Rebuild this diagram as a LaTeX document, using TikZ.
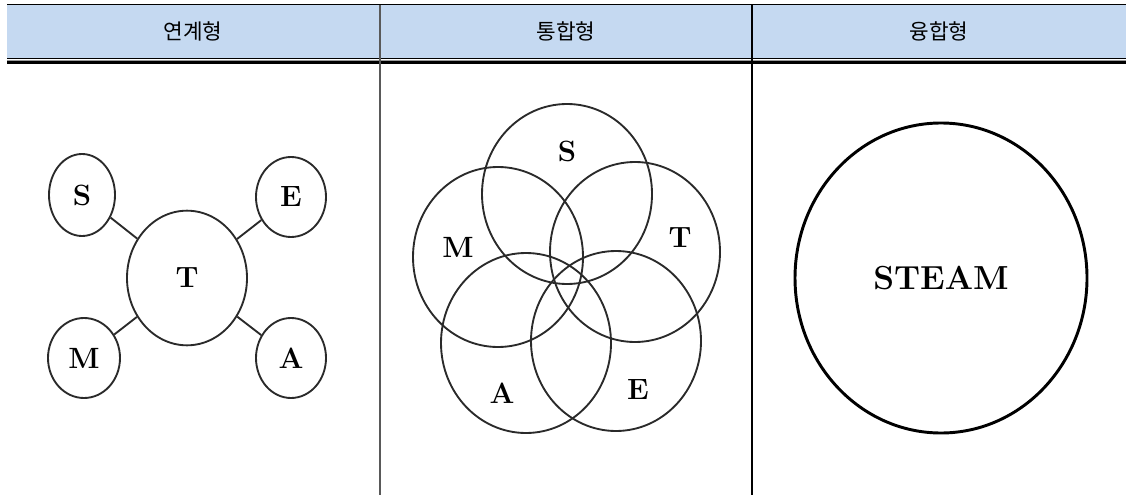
\documentclass[tikz,border=0pt]{standalone}
\usepackage{fontspec}
\newfontfamily\kofont{Noto Sans CJK KR}
\usetikzlibrary{shapes.geometric,positioning}
\definecolor{headblue}{HTML}{C5D9F1}
\definecolor{ringgray}{HTML}{2A2A2A}
\tikzset{
    headtext/.style={font=\kofont\fontsize{16}{16}\selectfont,inner sep=0pt},
    smallring/.style={ellipse,draw=ringgray,line width=1.4pt,inner sep=0pt,minimum width=51pt,minimum height=60pt,font=\fontsize{22}{22}\selectfont\bfseries},
    bigring/.style={smallring,minimum width=90pt,minimum height=101pt},
    vennring/.style={ellipse,draw=ringgray,line width=1.4pt,inner sep=0pt,minimum width=127.5pt,minimum height=135pt},
    vennlabel/.style={inner sep=0pt,font=\fontsize{22}{22}\selectfont\bfseries},
    wholering/.style={ellipse,draw,line width=2.2pt,inner sep=0pt,minimum width=219pt,minimum height=232.5pt,font=\fontsize{25}{25}\selectfont\bfseries},
    linkline/.style={draw=ringgray,line width=1.4pt},
    rulethin/.style={line width=0.75pt},
    rulethick/.style={line width=2pt}
}

\begin{document}
\begin{tikzpicture}[x=0.75pt,y=-0.75pt]
    \useasboundingbox (0,0) rectangle (1126,495);
    % table head
    \fill[headblue] (7,5) rectangle (1126,58);
    \draw[rulethin] (7,4.5) -- (1126,4.5);
    \draw[rulethin] (7,58.5) -- (1126,58.5);
    \draw[rulethin,black!40] (7,60.2) -- (1126,60.2);
    \draw[rulethick] (7,62.7) -- (1126,62.7);
    \draw[line width=0.9pt,black!65] (380,5) -- (380,495);
    \draw[line width=0.9pt] (752,5) -- (752,495);
    \node[headtext] (h1) at (193,31) {연계형};
    \node[headtext] (h2) at (566,31) {통합형};
    \node[headtext] (h3) at (939,31) {융합형};
    % linked type
    \node[bigring] (t1) at (187,278) {T};
    \node[smallring,minimum width=49.5pt,minimum height=61.5pt] (s1) at (82,195) {S};
    \node[smallring,minimum width=52.5pt] (e1) at (291,197) {E};
    \node[smallring,minimum width=54pt] (m1) at (84,358) {M};
    \node[smallring,minimum width=52.5pt] (a1) at (291,358) {A};
    \draw[linkline] (s1) -- (t1);
    \draw[linkline] (e1) -- (t1);
    \draw[linkline] (m1) -- (t1);
    \draw[linkline] (a1) -- (t1);
    % integrated type
    \node[vennring] (s2) at (567,194) {};
    \node[vennring] (m2) at (498,257) {};
    \node[vennring] (t2) at (635,252) {};
    \node[vennring] (a2) at (526,343) {};
    \node[vennring] (e2) at (616,341) {};
    \node[vennlabel] (sl) at (567,151) {S};
    \node[vennlabel] (ml) at (458,247) {M};
    \node[vennlabel] (tl) at (680,238) {T};
    \node[vennlabel] (al) at (502,393) {A};
    \node[vennlabel] (el) at (638,390) {E};
    % fused type
    \node[wholering] (steam) at (941,278) {STEAM};
\end{tikzpicture}
\end{document}
